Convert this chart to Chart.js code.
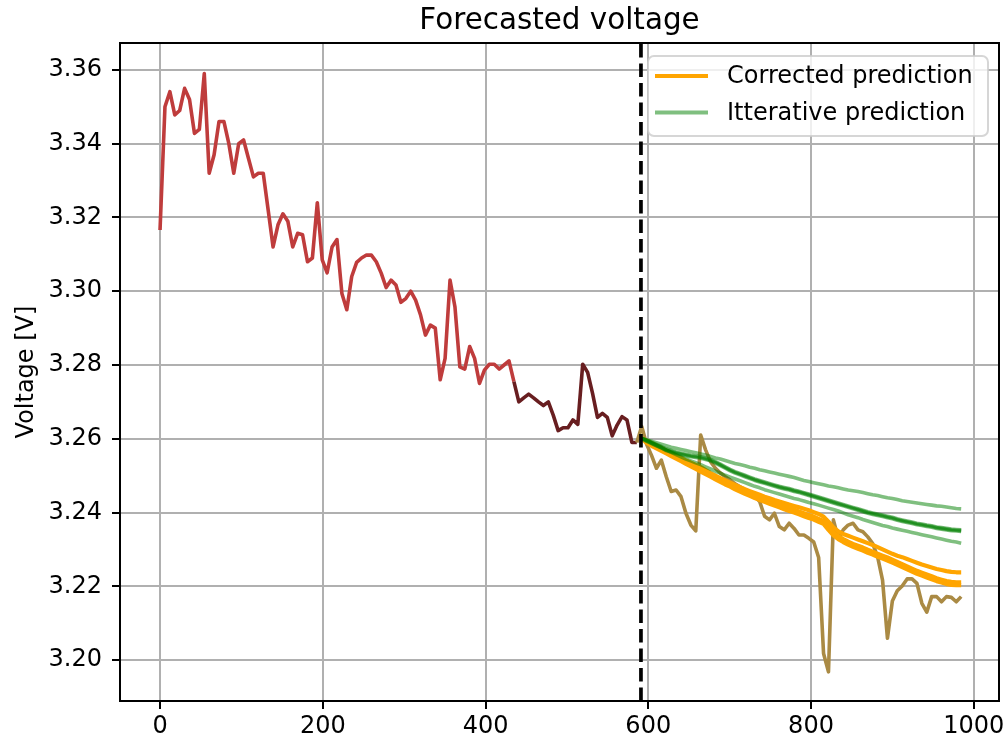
<!DOCTYPE html>
<html>
<head>
<meta charset="utf-8">
<script src="https://cdn.jsdelivr.net/npm/chart.js@4.4.1/dist/chart.umd.min.js"></script>
<style>
  html, body { margin: 0; padding: 0; background: #fff; }
  canvas { display: block; }
</style>
</head>
<body>
<canvas id="c" width="1005" height="742" style="width:1005px;height:742px"></canvas>
<script>
// ---------------- DATA ----------------
const SAMPLE_STEP = 6.04;           // x distance between samples
const FORECAST_START_X = 591;       // dashed vertical line
const X_MIN = -49.2, X_MAX = 1031;
const Y_MIN = 3.1889, Y_MAX = 3.3673;
const xTickValues = [0, 200, 400, 600, 800, 1000];
const yTickValues = [3.20, 3.22, 3.24, 3.26, 3.28, 3.30, 3.32, 3.34, 3.36];

// measured voltage, samples 0..72 (red)
const measuredTrain = [3.3166,3.3500,3.3541,3.3478,3.3490,3.3550,3.3520,3.3428,3.3439,3.3590,
 3.3320,3.3370,3.3460,3.3460,3.3400,3.3320,3.3400,3.3410,3.3360,3.3310,
 3.3320,3.3320,3.3220,3.3120,3.3180,3.3210,3.3190,3.3120,3.3157,3.3153,
 3.3080,3.3090,3.3240,3.3085,3.3050,3.3120,3.3140,3.2994,3.2950,3.3040,
 3.3078,3.3090,3.3098,3.3098,3.3080,3.3049,3.3010,3.3030,3.3017,3.2970,
 3.2980,3.3000,3.2976,3.2936,3.2881,3.2908,3.2900,3.2760,3.2818,3.3030,
 3.2958,3.2795,3.2789,3.2850,3.2818,3.2750,3.2786,3.2802,3.2802,3.2789,
 3.2800,3.2811,3.2755];
// measured voltage, samples 72..97 (dark)
const measuredWindow = [3.2755,3.2700,3.2711,3.2721,3.2711,3.2700,3.2690,3.2700,3.2664,3.2622,
 3.2630,3.2630,3.2651,3.2639,3.2802,3.2780,3.2723,3.2658,3.2669,3.2658,
 3.2608,3.2637,3.2660,3.2651,3.2590,3.2590];
// measured voltage, samples 97..163 (actual after forecast start)
const measuredFuture = [3.2590,3.2633,3.2585,3.2555,3.2520,3.2542,3.2497,3.2457,3.2461,3.2443,
 3.2398,3.2366,3.2350,3.2610,3.2570,3.2538,3.2520,3.2507,3.2497,3.2488,
 3.2478,3.2470,3.2462,3.2455,3.2445,3.2430,3.2390,3.2380,3.2398,3.2362,
 3.2353,3.2371,3.2357,3.2339,3.2339,3.2330,3.2320,3.2278,3.2018,3.1968,
 3.2380,3.2330,3.2353,3.2366,3.2371,3.2353,3.2348,3.2334,3.2316,3.2280,
 3.2217,3.2059,3.2160,3.2188,3.2201,3.2220,3.2220,3.2208,3.2154,3.2130,
 3.2172,3.2172,3.2158,3.2172,3.2170,3.2158,3.2172];

// corrected predictions, samples 98..163
const corrected1 = [3.2601,3.2594,3.2587,3.2581,3.2574,3.2567,3.2561,3.2554,3.2548,3.2541,
 3.2535,3.2529,3.2523,3.2515,3.2507,3.2500,3.2493,3.2487,3.2481,3.2475,
 3.2469,3.2463,3.2458,3.2453,3.2448,3.2443,3.2439,3.2434,3.2430,3.2426,
 3.2422,3.2418,3.2414,3.2410,3.2406,3.2401,3.2396,3.2389,3.2375,3.2360,
 3.2349,3.2342,3.2337,3.2332,3.2327,3.2322,3.2317,3.2312,3.2306,3.2300,
 3.2294,3.2288,3.2283,3.2279,3.2274,3.2269,3.2264,3.2259,3.2255,3.2251,
 3.2247,3.2244,3.2241,3.2239,3.2238,3.2238];
const corrected2 = [3.2601,3.2595,3.2589,3.2582,3.2575,3.2568,3.2561,3.2554,3.2547,3.2540,
 3.2533,3.2526,3.2519,3.2512,3.2505,3.2498,3.2491,3.2484,3.2478,3.2471,
 3.2465,3.2459,3.2453,3.2447,3.2442,3.2437,3.2432,3.2427,3.2422,3.2417,
 3.2412,3.2408,3.2403,3.2398,3.2393,3.2389,3.2383,3.2377,3.2361,3.2346,
 3.2336,3.2328,3.2321,3.2315,3.2310,3.2305,3.2299,3.2294,3.2288,3.2283,
 3.2278,3.2272,3.2266,3.2260,3.2254,3.2248,3.2242,3.2237,3.2232,3.2227,
 3.2222,3.2218,3.2214,3.2212,3.2211,3.2211];
const corrected3 = [3.2601,3.2589,3.2581,3.2574,3.2567,3.2560,3.2553,3.2546,3.2539,3.2532,
 3.2525,3.2518,3.2511,3.2504,3.2497,3.2490,3.2483,3.2476,3.2470,3.2463,
 3.2457,3.2451,3.2445,3.2439,3.2434,3.2429,3.2424,3.2419,3.2414,3.2409,
 3.2404,3.2400,3.2395,3.2390,3.2385,3.2381,3.2375,3.2369,3.2353,3.2338,
 3.2328,3.2320,3.2313,3.2307,3.2302,3.2297,3.2291,3.2286,3.2280,3.2275,
 3.2270,3.2264,3.2258,3.2252,3.2246,3.2240,3.2234,3.2229,3.2224,3.2219,
 3.2214,3.2210,3.2206,3.2204,3.2203,3.2203];

// iterative predictions, samples 98..163
const iterative1 = [3.2601,3.2597,3.2593,3.2589,3.2585,3.2581,3.2577,3.2574,3.2571,3.2568,
 3.2565,3.2562,3.2559,3.2556,3.2552,3.2548,3.2545,3.2541,3.2537,3.2533,
 3.2530,3.2527,3.2523,3.2520,3.2516,3.2513,3.2510,3.2507,3.2504,3.2501,
 3.2498,3.2495,3.2491,3.2487,3.2484,3.2481,3.2478,3.2475,3.2472,3.2470,
 3.2467,3.2464,3.2461,3.2459,3.2457,3.2454,3.2451,3.2448,3.2446,3.2443,
 3.2440,3.2438,3.2435,3.2432,3.2430,3.2428,3.2426,3.2424,3.2422,3.2420,
 3.2418,3.2417,3.2415,3.2413,3.2411,3.2410];
const iterative2 = [3.2601,3.2597,3.2591,3.2585,3.2579,3.2572,3.2568,3.2564,3.2561,3.2558,
 3.2555,3.2553,3.2551,3.2548,3.2544,3.2538,3.2531,3.2524,3.2517,3.2511,
 3.2506,3.2501,3.2496,3.2491,3.2487,3.2483,3.2479,3.2475,3.2471,3.2468,
 3.2465,3.2461,3.2458,3.2454,3.2450,3.2446,3.2442,3.2438,3.2434,3.2430,
 3.2426,3.2422,3.2418,3.2414,3.2410,3.2406,3.2402,3.2399,3.2396,3.2393,
 3.2390,3.2387,3.2383,3.2380,3.2377,3.2374,3.2371,3.2369,3.2366,3.2364,
 3.2361,3.2359,3.2357,3.2355,3.2354,3.2353];
const iterative3 = [3.2601,3.2595,3.2589,3.2583,3.2577,3.2570,3.2566,3.2562,3.2559,3.2556,
 3.2553,3.2551,3.2549,3.2546,3.2542,3.2536,3.2529,3.2522,3.2515,3.2509,
 3.2504,3.2499,3.2494,3.2489,3.2485,3.2481,3.2477,3.2473,3.2469,3.2466,
 3.2463,3.2459,3.2456,3.2452,3.2448,3.2444,3.2440,3.2436,3.2432,3.2428,
 3.2424,3.2420,3.2416,3.2412,3.2408,3.2404,3.2400,3.2397,3.2394,3.2391,
 3.2388,3.2385,3.2381,3.2378,3.2375,3.2372,3.2369,3.2367,3.2364,3.2362,
 3.2359,3.2357,3.2355,3.2353,3.2352,3.2351];
const iterative4 = [3.2601,3.2593,3.2587,3.2581,3.2575,3.2568,3.2564,3.2560,3.2557,3.2554,
 3.2551,3.2549,3.2547,3.2544,3.2540,3.2534,3.2527,3.2520,3.2513,3.2507,
 3.2502,3.2497,3.2492,3.2487,3.2483,3.2479,3.2475,3.2471,3.2467,3.2464,
 3.2461,3.2457,3.2454,3.2450,3.2446,3.2442,3.2438,3.2434,3.2430,3.2426,
 3.2422,3.2418,3.2414,3.2410,3.2406,3.2402,3.2398,3.2395,3.2392,3.2389,
 3.2386,3.2383,3.2379,3.2376,3.2373,3.2370,3.2367,3.2365,3.2362,3.2360,
 3.2357,3.2355,3.2353,3.2351,3.2350,3.2349];
const iterative5 = [3.2601,3.2595,3.2588,3.2582,3.2575,3.2569,3.2563,3.2557,3.2551,3.2545,
 3.2540,3.2535,3.2530,3.2524,3.2518,3.2512,3.2507,3.2501,3.2496,3.2491,
 3.2486,3.2481,3.2476,3.2471,3.2467,3.2462,3.2458,3.2454,3.2450,3.2446,
 3.2442,3.2438,3.2435,3.2431,3.2427,3.2424,3.2420,3.2416,3.2412,3.2408,
 3.2404,3.2399,3.2394,3.2390,3.2386,3.2381,3.2377,3.2373,3.2369,3.2365,
 3.2362,3.2358,3.2355,3.2352,3.2349,3.2346,3.2343,3.2340,3.2337,3.2334,
 3.2331,3.2328,3.2325,3.2322,3.2320,3.2317];

const TITLE = 'Forecasted voltage';
const Y_LABEL = 'Voltage [V]';
const LABEL_CORRECTED = 'Corrected prediction';
const LABEL_ITERATIVE = 'Itterative prediction';

// ---------------- CHART ----------------
const xAt = i => +(i * SAMPLE_STEP).toFixed(2);
const series = (vals, start) => vals.map((v, k) => ({ x: xAt(start + k), y: v }));

const RED = 'rgb(191,60,60)';
const DARK = 'rgb(104,30,32)';
const TAN = 'rgb(170,138,68)';
const ORANGE = '#ffa500';
const GREEN = 'rgba(0,128,0,0.5)';
const LW = 3.6;

function lineDs(label, data, color, order, extra) {
  return Object.assign({
    label, data, borderColor: color, backgroundColor: color,
    borderWidth: LW, pointRadius: 0, pointHoverRadius: 0, tension: 0,
    fill: false, borderJoinStyle: 'round', borderCapStyle: 'butt', order
  }, extra || {});
}

const datasets = [
  lineDs('Measured', series(measuredTrain, 0), RED, 20),
  lineDs('Measured (window)', series(measuredWindow, 72), DARK, 19),
  lineDs('Measured (future)', series(measuredFuture, 97), TAN, 18),
  lineDs(LABEL_CORRECTED, series(corrected1, 98), ORANGE, 12, { inLegend: true, borderWidth: 4.2 }),
  lineDs(LABEL_CORRECTED, series(corrected2, 98), ORANGE, 11, { borderWidth: 4.2 }),
  lineDs(LABEL_CORRECTED, series(corrected3, 98), ORANGE, 10, { borderWidth: 4.2 }),
  lineDs(LABEL_ITERATIVE, series(iterative1, 98), GREEN, 9, { inLegend: true }),
  lineDs(LABEL_ITERATIVE, series(iterative2, 98), GREEN, 8),
  lineDs(LABEL_ITERATIVE, series(iterative3, 98), GREEN, 7),
  lineDs(LABEL_ITERATIVE, series(iterative4, 98), GREEN, 6),
  lineDs(LABEL_ITERATIVE, series(iterative5, 98), GREEN, 5),
  lineDs('Forecast start', [{ x: FORECAST_START_X, y: Y_MIN }, { x: FORECAST_START_X, y: Y_MAX }],
    '#000', 0, { borderDash: [13.6, 5.9], borderWidth: 3.7, borderCapStyle: 'butt' })
];

const spinesPlugin = {
  id: 'spines',
  afterDatasetsDraw(chart) {
    const { ctx, chartArea: a } = chart;
    ctx.save();
    ctx.strokeStyle = '#000';
    ctx.lineWidth = 2;
    ctx.strokeRect(a.left, a.top, a.right - a.left, a.bottom - a.top);
    ctx.restore();
  }
};

const legendPlugin = {
  id: 'mplLegend',
  afterDraw(chart) {
    const { ctx, chartArea: a } = chart;
    const items = chart.data.datasets.filter(d => d.inLegend);
    const w = 340, h = 80, r = 6;
    const x = a.right - 11 - w, y = a.top + 13;
    ctx.save();
    ctx.beginPath();
    ctx.moveTo(x + r, y);
    ctx.lineTo(x + w - r, y); ctx.arcTo(x + w, y, x + w, y + r, r);
    ctx.lineTo(x + w, y + h - r); ctx.arcTo(x + w, y + h, x + w - r, y + h, r);
    ctx.lineTo(x + r, y + h); ctx.arcTo(x, y + h, x, y + h - r, r);
    ctx.lineTo(x, y + r); ctx.arcTo(x, y, x + r, y, r);
    ctx.closePath();
    ctx.fillStyle = 'rgba(255,255,255,0.8)';
    ctx.fill();
    ctx.strokeStyle = 'rgba(204,204,204,0.8)';
    ctx.lineWidth = 2;
    ctx.stroke();
    ctx.font = "24px 'DejaVu Sans'";
    ctx.textBaseline = 'middle';
    ctx.textAlign = 'left';
    items.forEach((d, i) => {
      const cy = y + 20 + i * 36.5;
      ctx.beginPath();
      ctx.moveTo(x + 7, cy);
      ctx.lineTo(x + 60, cy);
      ctx.strokeStyle = d.borderColor;
      ctx.lineWidth = 4;
      ctx.stroke();
      ctx.fillStyle = '#000';
      ctx.fillText(d.label, x + 79, cy + 1);
    });
    ctx.restore();
  }
};

Chart.defaults.font.family = "'DejaVu Sans', sans-serif";
Chart.defaults.font.size = 24;
Chart.defaults.color = '#000';

new Chart(document.getElementById('c'), {
  type: 'line',
  data: { datasets },
  options: {
    responsive: false,
    animation: false,
    devicePixelRatio: 1,
    layout: { padding: { left: 0, right: 6, top: 0, bottom: 0 } },
    plugins: {
      legend: { display: false },
      tooltip: { enabled: false },
      title: {
        display: true, text: TITLE, fullSize: false, color: '#000',
        font: { size: 29.4, weight: 'normal' },
        padding: { top: 4, bottom: 3.72 }
      }
    },
    scales: {
      x: {
        type: 'linear', min: X_MIN, max: X_MAX,
        afterBuildTicks: s => { s.ticks = xTickValues.map(v => ({ value: v })); },
        afterFit: s => { s.height = 41; s.paddingLeft = 0; s.paddingRight = 0; },
        ticks: { padding: 3, maxRotation: 0, callback: v => String(v) },
        grid: { color: '#b0b0b0', lineWidth: 2, drawTicks: true, tickLength: 8, tickColor: '#000', tickWidth: 2 },
        border: { display: true, color: '#000', width: 2 }
      },
      y: {
        type: 'linear', min: Y_MIN, max: Y_MAX,
        afterBuildTicks: s => { s.ticks = yTickValues.map(v => ({ value: v })); },
        afterFit: s => { s.width = 120; s.paddingTop = 0; s.paddingBottom = 0; },
        ticks: { padding: 10, callback: v => Number(v).toFixed(2) },
        grid: { color: '#b0b0b0', lineWidth: 2, drawTicks: true, tickLength: 8, tickColor: '#000', tickWidth: 2 },
        border: { display: true, color: '#000', width: 2 },
        title: { display: true, text: Y_LABEL, font: { size: 24 }, color: '#000', padding: { top: 12, bottom: 0 } }
      }
    }
  },
  plugins: [spinesPlugin, legendPlugin]
});
</script>
</body>
</html>
